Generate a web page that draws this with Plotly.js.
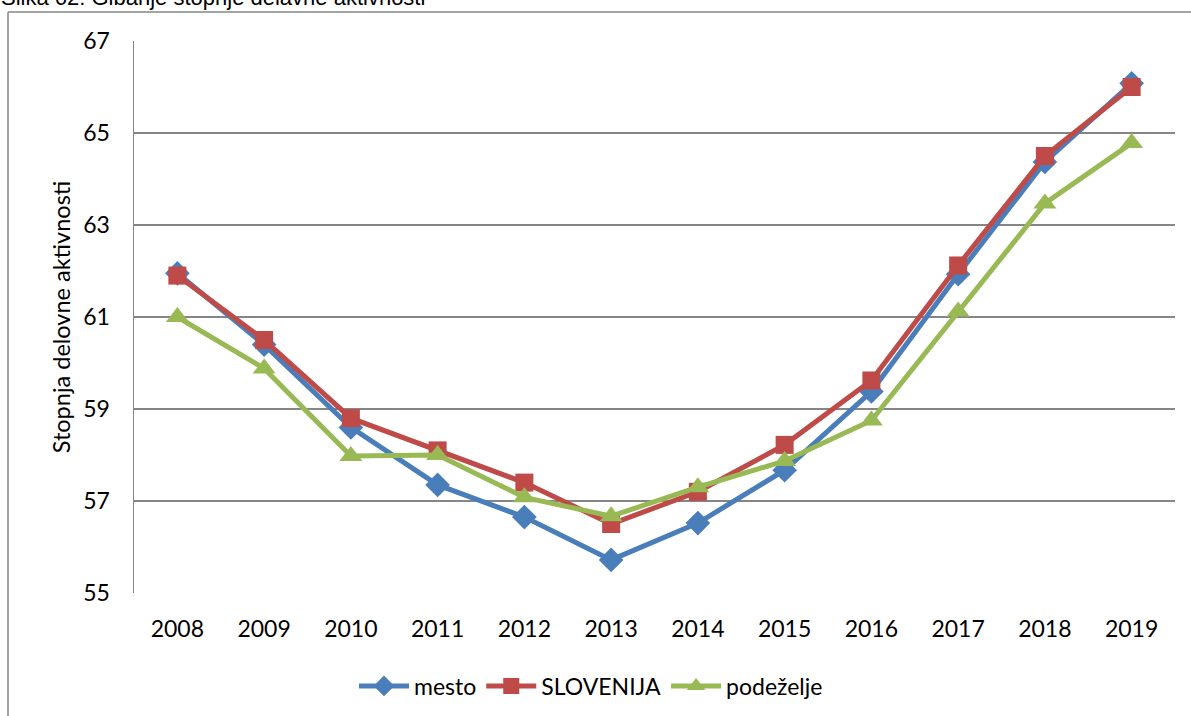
<!DOCTYPE html>
<html>
<head>
<meta charset="utf-8">
<script src="https://cdn.plot.ly/plotly-3.0.1.min.js"></script>
<style>html,body{margin:0;padding:0;background:#fff;}#chart{width:1191px;height:716px;}</style>
</head>
<body>
<div id="chart"></div>
<script>
var years = ['2008','2009','2010','2011','2012','2013','2014','2015','2016','2017','2018','2019'];
var mesto = [61.95, 60.4, 58.6, 57.35, 56.65, 55.72, 56.52, 57.67, 59.38, 61.93, 64.37, 66.08];
var slovenija = [61.9, 60.5, 58.8, 58.1, 57.4, 56.5, 57.2, 58.22, 59.62, 62.12, 64.5, 66.0];
var podezelje = [61.0, 59.88, 57.98, 58.0, 57.08, 56.67, 57.3, 57.87, 58.75, 61.12, 63.47, 64.78];
var seriesNames = ['mesto', 'SLOVENIJA', 'podeželje'];
var titleText = 'Slika 62: Gibanje stopnje delavne aktivnosti';
var yTitle = 'Stopnja delovne aktivnosti';

var W = 1191, H = 716, L = 134, R = 16, T = 41, B = 123;
var pw = W - L - R, ph = H - T - B;
function px(x){ return (x - L) / pw; }
function py(y){ return 1 - (y - T) / ph; }

var traces = [
  {x: years, y: mesto, name: seriesNames[0], type: 'scatter', mode: 'lines+markers',
   line: {color: '#4A7EBB', width: 5}, marker: {symbol: 'diamond', size: 19, color: '#4A7EBB'}},
  {x: years, y: slovenija, name: seriesNames[1], type: 'scatter', mode: 'lines+markers',
   line: {color: '#BE4B48', width: 5}, marker: {symbol: 'square', size: 18, color: '#BE4B48'}},
  {x: years, y: podezelje, name: seriesNames[2], type: 'scatter', mode: 'lines+markers',
   line: {color: '#98B954', width: 5}, marker: {symbol: 'triangle-up', size: 20, color: '#98B954'}}
];

var layout = {
  width: W, height: H,
  margin: {l: L, r: R, t: T, b: B, pad: 0, autoexpand: false},
  paper_bgcolor: '#fff', plot_bgcolor: '#fff',
  font: {family: 'Lato, "Open Sans", sans-serif', size: 23, color: '#000'},
  showlegend: true,
  legend: {orientation: 'h', x: 0.439, xanchor: 'center', y: py(686), yanchor: 'middle',
           font: {size: 23, family: 'Lato, sans-serif'}, itemwidth: 50, tracegroupgap: 0, traceorder: 'normal'},
  xaxis: {type: 'category', range: [-0.5, 11.5], showgrid: false, zeroline: false, automargin: false,
          showline: false, ticks: '', ticklabelstandoff: 20, tickfont: {size: 23}, fixedrange: true},
  yaxis: {range: [55, 67], dtick: 2, tick0: 55, showgrid: true, gridcolor: '#868686', gridwidth: 1.5,
          zeroline: false, showline: true, linecolor: '#868686', linewidth: 1.5, ticks: '', automargin: false,
          ticklabelstandoff: 18, tickfont: {size: 23},
          title: {text: yTitle, font: {size: 23.5}, standoff: 6}},
  shapes: [
    {type: 'line', xref: 'paper', yref: 'paper', x0: px(8), x1: px(8), y0: py(12), y1: py(720),
     line: {color: '#868686', width: 1.5}},
    {type: 'line', xref: 'paper', yref: 'paper', x0: px(8), x1: px(1195), y0: py(12), y1: py(12),
     line: {color: '#868686', width: 1.5}}
  ],
  annotations: [
    {text: titleText, xref: 'paper', yref: 'paper', x: px(-1), xanchor: 'left', y: py(-2), yanchor: 'middle',
     showarrow: false, font: {family: '"Liberation Sans", Arial, sans-serif', size: 22, color: '#000'}}
  ]
};

Plotly.newPlot('chart', traces, layout, {displayModeBar: false, staticPlot: true});
</script>
</body>
</html>
